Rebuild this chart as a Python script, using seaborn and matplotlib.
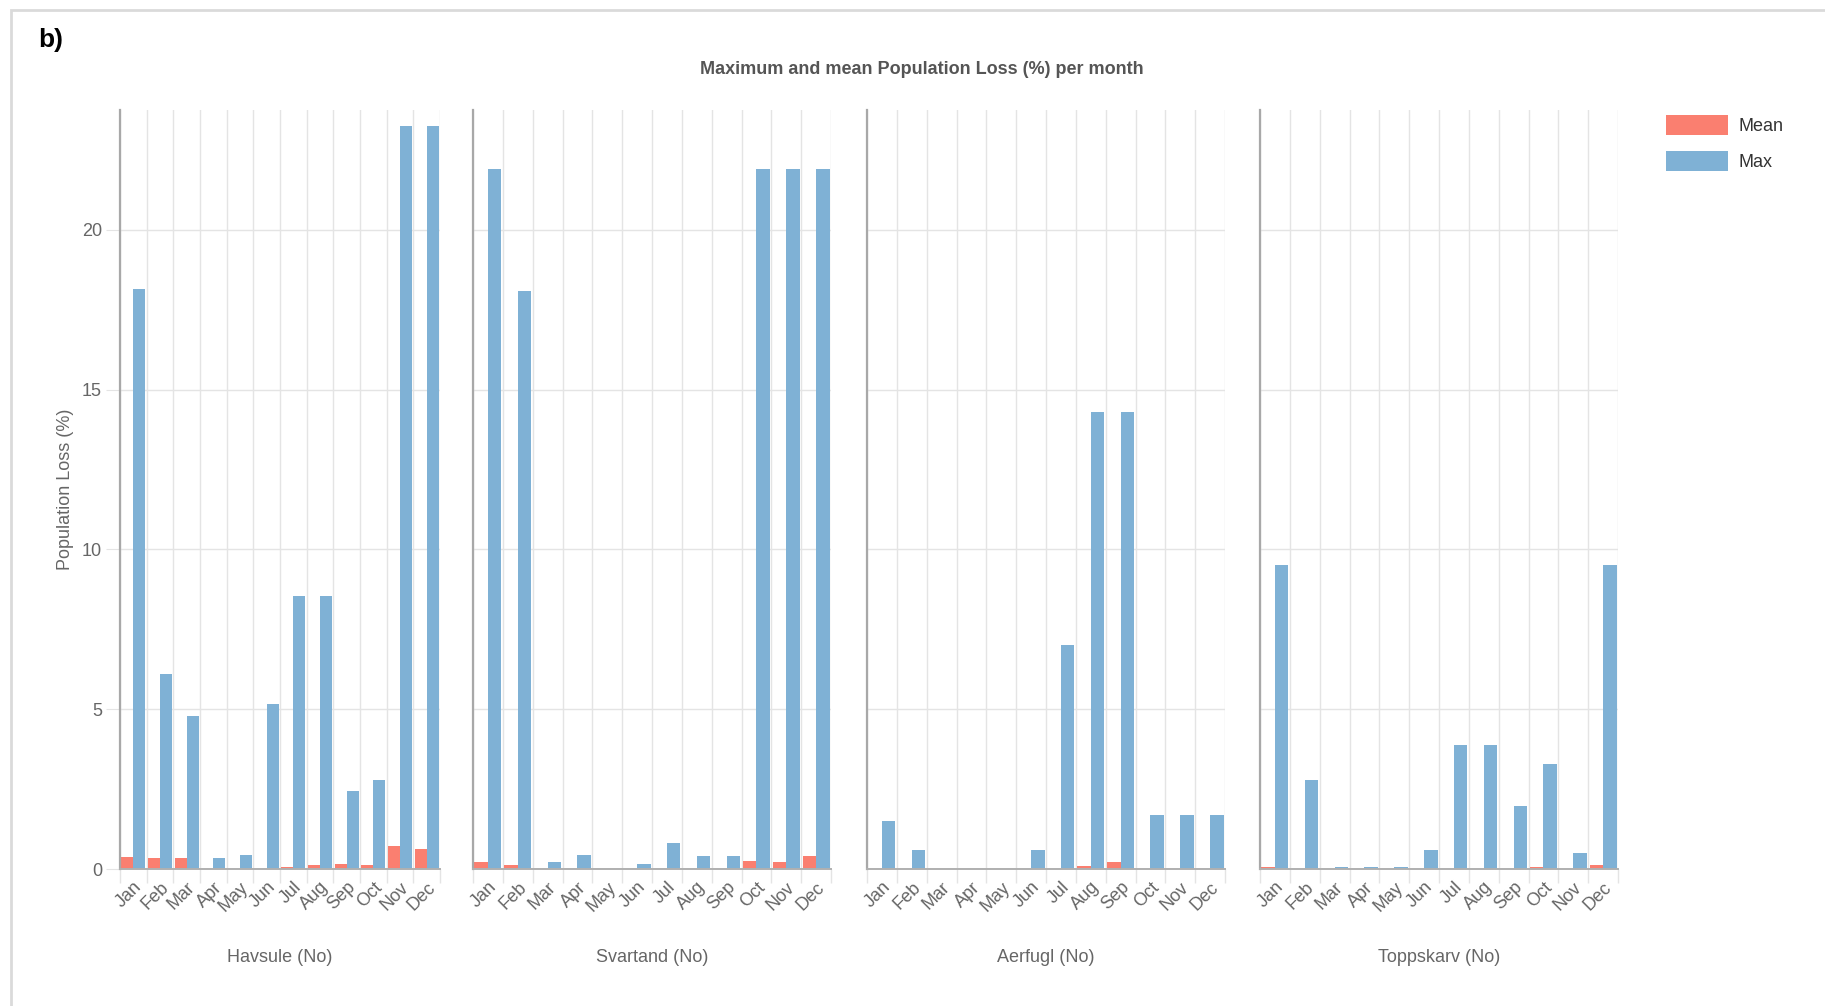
import numpy as np
import pandas as pd
import matplotlib
matplotlib.use("Agg")
import matplotlib.pyplot as plt
import seaborn as sns
from matplotlib.patches import Patch, Rectangle

# ---------------- data ----------------
months = ["Jan", "Feb", "Mar", "Apr", "May", "Jun",
          "Jul", "Aug", "Sep", "Oct", "Nov", "Dec"]
species = ["Havsule (No)", "Svartand (No)", "Aerfugl (No)", "Toppskarv (No)"]
stats = ["Mean", "Max"]

havsule_mean = [0.39, 0.34, 0.34, 0, 0, 0, 0.05, 0.11, 0.16, 0.11, 0.73, 0.63]
havsule_max = [18.15, 6.1, 4.8, 0.34, 0.45, 5.15, 8.55, 8.55, 2.45, 2.78, 23.25, 23.25]
svartand_mean = [0.21, 0.11, 0, 0, 0, 0, 0, 0, 0, 0.25, 0.21, 0.40]
svartand_max = [21.9, 18.1, 0.21, 0.45, 0, 0.16, 0.82, 0.40, 0.40, 21.9, 21.9, 21.9]
aerfugl_mean = [0, 0, 0, 0, 0, 0, 0, 0.10, 0.21, 0, 0, 0]
aerfugl_max = [1.49, 0.58, 0, 0, 0, 0.58, 7.02, 14.3, 14.3, 1.69, 1.69, 1.69]
toppskarv_mean = [0.05, 0, 0, 0, 0, 0, 0, 0, 0, 0.05, 0, 0.12]
toppskarv_max = [9.52, 2.78, 0.05, 0.05, 0.05, 0.58, 3.87, 3.87, 1.97, 3.30, 0.49, 9.52]

series = {
    "Havsule (No)": (havsule_mean, havsule_max),
    "Svartand (No)": (svartand_mean, svartand_max),
    "Aerfugl (No)": (aerfugl_mean, aerfugl_max),
    "Toppskarv (No)": (toppskarv_mean, toppskarv_max),
}

rows = []
for sp in species:
    mean_vals, max_vals = series[sp]
    for m, mv, xv in zip(months, mean_vals, max_vals):
        rows.append({"Species": sp, "Month": m, "Stat": "Mean", "Value": mv})
        rows.append({"Species": sp, "Month": m, "Stat": "Max", "Value": xv})
df = pd.DataFrame(rows)

# ---------------- style ----------------
plt.rcParams["font.family"] = ["Liberation Sans", "DejaVu Sans"]
colors = {"Mean": "#FA7F70", "Max": "#7FB1D5"}
text_gray = "#666666"
grid_gray = "#e4e4e4"
FS = 13

W, H = 1825, 1006
fig = plt.figure(figsize=(W / 100, H / 100), dpi=100)

# outer light frame
fig.patches.append(Rectangle((10.5 / W, -0.05), 1.2, 1 - 9.5 / H + 0.05,
                             transform=fig.transFigure, fill=False,
                             edgecolor="#dadada", lw=2, zorder=0))

panels = [(120, 320), (473, 358), (867, 358), (1260, 358)]
y0_px, ytop_px = 869, 110
bottom = (H - y0_px) / H
height = (y0_px - ytop_px) / H

for i, sp in enumerate(species):
    left, w = panels[i]
    ax = fig.add_axes([left / W, bottom, w / W, height])
    sub = df[df["Species"] == sp]
    sns.barplot(data=sub, x="Month", y="Value", hue="Stat", order=months,
                hue_order=stats, palette=colors, width=0.9, saturation=1,
                errorbar=None, legend=False, ax=ax, linewidth=0)
    ax.set_xlim(-0.5, 11.5)
    ax.set_ylim(0, 23.75)
    ax.set_axisbelow(True)

    # gridlines
    ax.set_yticks([0, 5, 10, 15, 20])
    ax.yaxis.grid(True, color=grid_gray, lw=1)
    ax.set_xticks(np.arange(-0.5, 12, 1), minor=True)
    ax.xaxis.grid(True, which="minor", color=grid_gray, lw=1)
    ax.xaxis.grid(False, which="major")

    ax.tick_params(axis="x", which="major", length=0, pad=7, labelsize=FS,
                   labelcolor=text_gray)
    ax.tick_params(axis="x", which="minor", length=10, width=1, color=grid_gray)
    for lab in ax.get_xticklabels():
        lab.set_rotation(45)
        lab.set_ha("right")
        lab.set_va("top")
        lab.set_rotation_mode("anchor")

    for s in ["top", "right"]:
        ax.spines[s].set_visible(False)
    ax.spines["left"].set_color("#a8a8a8")
    ax.spines["left"].set_linewidth(1.6)
    ax.spines["bottom"].set_color("#b0b0b0")
    ax.spines["bottom"].set_linewidth(1.4)

    if i == 0:
        ax.tick_params(axis="y", length=10, color=grid_gray, pad=3,
                       labelsize=FS, labelcolor=text_gray)
        ax.set_ylabel("Population Loss (%)", fontsize=FS, color=text_gray)
        ax.yaxis.set_label_coords(-0.169, 0.5)
        ax.yaxis.label.set_va("center")
    else:
        ax.tick_params(axis="y", length=0, labelleft=False)
        ax.set_ylabel("")

    ax.set_xlabel(sp, fontsize=FS, color=text_gray)
    ax.xaxis.set_label_coords(0.5, -0.116)
    ax.xaxis.label.set_va("center")

# title and panel label
fig.text(922 / W, 1 - 69 / H, "Maximum and mean Population Loss (%) per month",
         ha="center", va="center", fontsize=13, fontweight="bold",
         color="#555555")
fig.text(38 / W, 1 - 40 / H, "b)", ha="left", va="center", fontsize=19,
         fontweight="bold", color="black")

# legend
fpx = FS * 100 / 72
handles = [Patch(facecolor=colors[s], edgecolor="none", label=s) for s in stats]
fig.legend(handles=handles, loc="upper left",
           bbox_to_anchor=(1666 / W, 1 - 115 / H), frameon=False,
           borderpad=0, borderaxespad=0, fontsize=FS,
           handlelength=62 / fpx, handleheight=24 / fpx,
           handletextpad=10 / fpx, labelspacing=16 / fpx,
           labelcolor="#333333")

fig.savefig("out.png", dpi=100)
